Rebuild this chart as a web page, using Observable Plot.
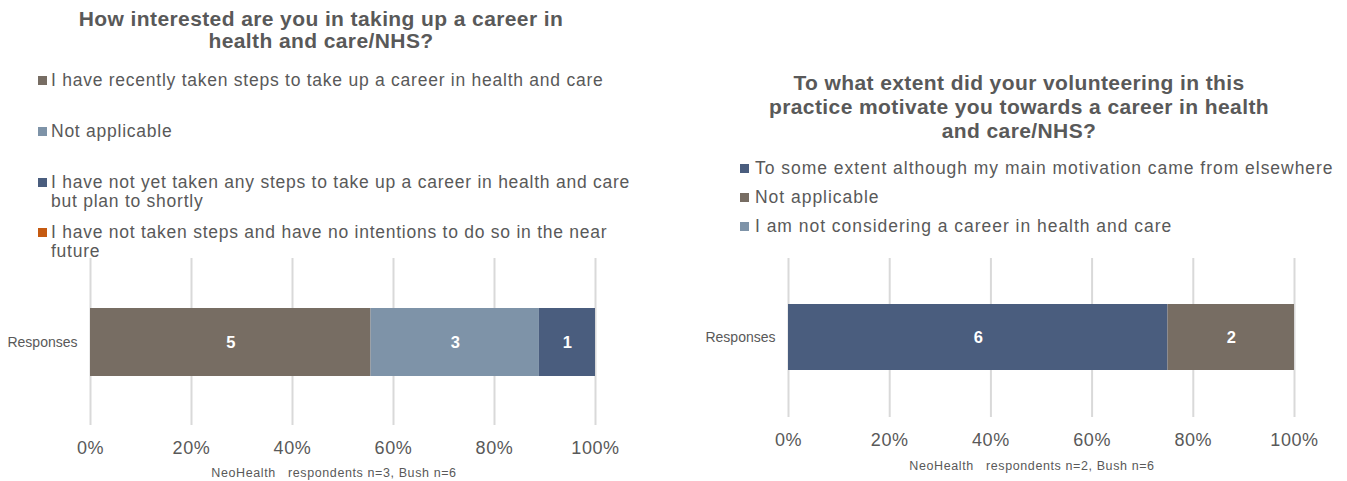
<!DOCTYPE html>
<html>
<head>
<meta charset="utf-8">
<script src="https://cdn.jsdelivr.net/npm/d3@7"></script>
<script src="https://cdn.jsdelivr.net/npm/@observablehq/plot@0.6"></script>
<style>
  html, body { margin: 0; padding: 0; background: #fff; }
  #root { position: relative; width: 1347px; height: 481px; overflow: hidden; font-family: "Liberation Sans", Arial, sans-serif; color: #595959; }
  .abs { position: absolute; }
  .title { font-weight: bold; font-size: 21px; letter-spacing: 0.4px; text-align: center; white-space: nowrap; }
  .leg { font-size: 17.5px; line-height: 19px; white-space: nowrap; letter-spacing: 0.85px; }
  .sq { position: absolute; width: 9px; height: 9px; }
  .cap { font-size: 12.5px; white-space: pre; transform: translate(-50%, -50%); letter-spacing: 0.6px; }
</style>
</head>
<body>
<div id="root"></div>
<script>
// ---- Data ----
const leftTitle = ["How interested are you in taking up a career in", "health and care/NHS?"];
const leftCats = [
  "I have recently taken steps to take up a career in health and care",
  "Not applicable",
  "I have not yet taken any steps to take up a career in health and care but plan to shortly",
  "I have not taken steps and have no intentions to do so in the near future"
];
const leftLegendLines = [
  ["I have recently taken steps to take up a career in health and care"],
  ["Not applicable"],
  ["I have not yet taken any steps to take up a career in health and care", "but plan to shortly"],
  ["I have not taken steps and have no intentions to do so in the near", "future"]
];
const leftValues = [5, 3, 1, 0];
const leftColors = ["#776d63", "#7e93a8", "#4a5d7e", "#c55a11"];
const leftCaption = "NeoHealth   respondents n=3, Bush n=6";

const rightTitle = ["To what extent did your volunteering in this", "practice motivate you towards a career in health", "and care/NHS?"];
const rightCats = [
  "To some extent although my main motivation came from elsewhere",
  "Not applicable",
  "I am not considering a career in health and care"
];
const rightValues = [6, 2, 0];
const rightColors = ["#4a5d7e", "#776d63", "#7e93a8"];
const rightCaption = "NeoHealth   respondents n=2, Bush n=6";

const group = "Responses";
const xTicks = [0, 0.2, 0.4, 0.6, 0.8, 1];

const root = document.getElementById("root");

function addDiv(cls, style, html) {
  const d = document.createElement("div");
  d.className = "abs " + cls;
  Object.assign(d.style, style);
  d.innerHTML = html;
  root.appendChild(d);
  return d;
}

function addTitle(lines, cx, cy0, lh) {
  lines.forEach((t, i) => {
    addDiv("title", {left: cx + "px", top: (cy0 + i * lh) + "px", transform: "translate(-50%, -50%)"}, t);
  });
}

function addLegend(items, colors, sqX, textX, centers, ls) {
  items.forEach((lines, i) => {
    const cy = centers[i];
    const sq = document.createElement("div");
    sq.className = "sq";
    sq.style.left = sqX + "px";
    sq.style.top = (cy - 4) + "px";
    sq.style.background = colors[i];
    root.appendChild(sq);
    addDiv("leg", {left: textX + "px", top: (cy - 9.5) + "px", letterSpacing: ls + "px"}, lines.join("<br>"));
  });
}

function makeChart(cats, values, colors, opts) {
  const data = cats.map((c, i) => ({cat: c, value: values[i], group})).filter(d => d.value > 0);
  const chart = Plot.plot({
    width: opts.width,
    height: opts.height,
    marginLeft: opts.marginLeft,
    marginRight: opts.marginRight,
    marginTop: opts.marginTop,
    marginBottom: opts.marginBottom,
    style: {fontFamily: "Liberation Sans, Arial, sans-serif", color: "#595959", background: "transparent"},
    x: {domain: [0, 1]},
    y: {domain: [group], padding: opts.padding},
    color: {domain: cats, range: colors},
    marks: [
      Plot.gridX(xTicks, {stroke: "#d9d9d9", strokeOpacity: 1, strokeWidth: 2}),
      Plot.barX(data, Plot.stackX({x: "value", y: "group", fill: "cat", offset: "normalize"})),
      Plot.text(data, Plot.stackX({x: "value", y: "group", z: "cat", text: d => String(d.value), offset: "normalize", fill: "white", fontWeight: "bold", fontSize: 16.5})),
      Plot.axisX({ticks: xTicks, tickFormat: d3.format(".0%"), tickSize: 0, tickPadding: 16, fontSize: 18, label: null, fill: "#595959"}),
      Plot.axisY({tickSize: 0, tickPadding: 13, fontSize: 14, label: null, fill: "#595959"})
    ]
  });
  chart.style.position = "absolute";
  chart.style.left = opts.left + "px";
  chart.style.top = opts.top + "px";
  chart.style.overflow = "visible";
  chart.querySelectorAll("g[aria-label='x-axis tick label'] text").forEach(t => t.style.letterSpacing = "0.6px");
  root.appendChild(chart);
}

// Left panel
addTitle(leftTitle, 321, 19, 22);
addLegend(leftLegendLines, leftColors, 38, 51, [80, 131, 182, 232], 0.75);
makeChart(leftCats, leftValues, leftColors, {
  left: 0, top: 250, width: 673, height: 210,
  marginLeft: 90, marginRight: 78, marginTop: 8, marginBottom: 35, padding: 0.42
});
addDiv("cap", {left: "334px", top: "473px"}, leftCaption);

// Right panel
addTitle(rightTitle, 1019, 83, 24);
addLegend(rightCats.map(c => [c]), rightColors, 740, 755, [168, 197, 226], 0.97);
makeChart(rightCats, rightValues, rightColors, {
  left: 673, top: 250, width: 674, height: 210,
  marginLeft: 115, marginRight: 53, marginTop: 8, marginBottom: 43, padding: 0.41
});
addDiv("cap", {left: "1032px", top: "466px"}, rightCaption);
</script>
</body>
</html>
